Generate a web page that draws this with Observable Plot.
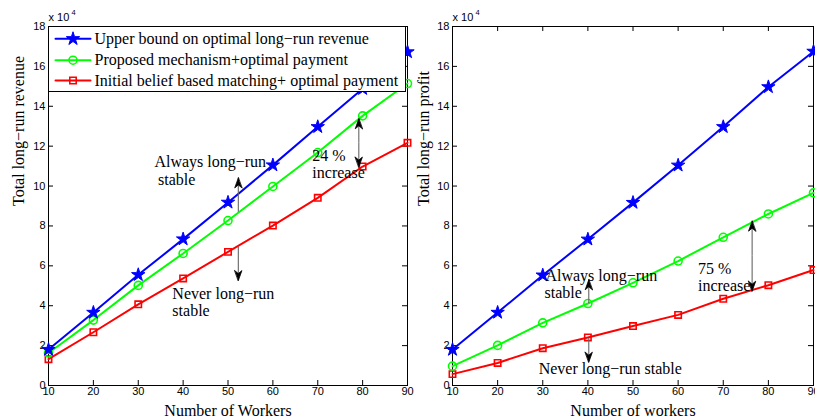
<!DOCTYPE html>
<html><head><meta charset="utf-8">
<script src="https://cdn.jsdelivr.net/npm/d3@7"></script>
<script src="https://cdn.jsdelivr.net/npm/@observablehq/plot@0.6"></script>
<style>
body{margin:0;background:#fff;}
#wrap{position:relative;width:815px;height:420px;overflow:hidden;background:#fff;}
.panel{position:absolute;top:0;}
.panel svg{overflow:visible;}
</style></head><body><div id="wrap"></div>
<script>
// Values in units of 10^4
const workers = [10, 20, 30, 40, 50, 60, 70, 80, 90];
const revenueUpper    = [1.80, 3.66, 5.55, 7.34, 9.18, 11.05, 12.97, 14.88, 16.72];
const revenueProposed = [1.63, 3.28, 5.02, 6.62, 8.27, 9.98, 11.68, 13.52, 15.14];
const revenueInitial  = [1.32, 2.67, 4.07, 5.37, 6.70, 8.02, 9.41, 10.98, 12.17];
const profitUpper     = [1.80, 3.66, 5.53, 7.33, 9.17, 11.04, 12.97, 14.97, 16.75];
const profitProposed  = [0.97, 2.01, 3.14, 4.11, 5.15, 6.24, 7.43, 8.60, 9.66];
const profitInitial   = [0.57, 1.13, 1.87, 2.41, 2.98, 3.54, 4.35, 5.03, 5.79];

const xTicks = [10, 20, 30, 40, 50, 60, 70, 80, 90];
const yTicks = [0, 2, 4, 6, 8, 10, 12, 14, 16, 18];

const seriesNames = [
  "Upper bound on optimal long\u2212run revenue",
  "Proposed mechanism+optimal payment",
  "Initial belief based matching+ optimal payment"
];
const seriesColors = ["#0000ff", "#00ff00", "#ff0000"];
const seriesSymbols = ["star", "circle", "square"];

const revenueNotes = [
  {x: 33.6, y: 10.95, text: "Always long\u2212run"},
  {x: 34.4, y: 10.06, text: "stable"},
  {x: 37.6, y: 4.35, text: "Never long\u2212run"},
  {x: 37.6, y: 3.47, text: "stable"},
  {x: 68.8, y: 11.25, text: "24 %"},
  {x: 68.8, y: 10.41, text: "increase"}
];
const revenueArrows = [
  {x: 52.3, y1: 8.69, y2: 10.41},
  {x: 52.3, y1: 6.93, y2: 5.26},
  {x: 79.15, y1: 12.16, y2: 13.37},
  {x: 79.15, y1: 12.16, y2: 10.95}
];
const profitNotes = [
  {x: 30.6, y: 5.23, text: "Always long\u2212run"},
  {x: 30.4, y: 4.38, text: "stable"},
  {x: 29.1, y: 0.59, text: "Never long\u2212run stable"},
  {x: 64.4, y: 5.57, text: "75 %"},
  {x: 64.4, y: 4.73, text: "increase"}
];
const profitArrows = [
  {x: 40.2, y1: 4.10, y2: 5.30},
  {x: 40.2, y1: 2.36, y2: 1.17},
  {x: 76.4, y1: 6.49, y2: 8.24},
  {x: 76.4, y1: 6.49, y2: 4.73}
];

const SERIF = "'Liberation Serif', 'Times New Roman', serif";
const SANS = "'Liberation Sans', Arial, sans-serif";

function toRows(values) { return workers.map((w, i) => ({x: w, y: values[i]})); }

const segShape = {draw(context, l) { context.moveTo(0, 0); context.lineTo(l, 0); }};
// barbed arrow head with its tip at the origin, pointing "up" before rotation
const headShape = {draw(context) {
  context.moveTo(0, 0); context.lineTo(-3.6, 10); context.lineTo(0, 7); context.lineTo(3.6, 10); context.closePath();
}};

function makePanel({left, width, marginLeft, marginRight, series, ylabel, xlabel, ylabelDx, notes, arrows, legend}) {
  const marginTop = 26, marginBottom = 35, height = 420;
  const fw = width - marginLeft - marginRight;
  const fh = height - marginTop - marginBottom;
  const marks = [];
  marks.push(Plot.frame({stroke: "black", strokeWidth: 1}));
  marks.push(Plot.ruleX(xTicks, {x: d => d, insetTop: fh - 5, stroke: "black"}));
  marks.push(Plot.ruleX(xTicks, {x: d => d, insetBottom: fh - 5, stroke: "black"}));
  marks.push(Plot.ruleY(yTicks, {y: d => d, insetRight: fw - 5, stroke: "black"}));
  marks.push(Plot.ruleY(yTicks, {y: d => d, insetLeft: fw - 5, stroke: "black"}));
  marks.push(Plot.axisX(xTicks, {tickSize: 0, tickPadding: 2, label: null, fontSize: 11}));
  marks.push(Plot.axisY(yTicks, {tickSize: 0, tickPadding: 3, label: null, fontSize: 11}));
  [2, 1, 0].forEach(k => {
    const rows = toRows(series[k]);
    marks.push(Plot.line(rows, {x: "x", y: "y", stroke: seriesColors[k], strokeWidth: 2}));
    if (seriesSymbols[k] === "star") {
      marks.push(Plot.dot(rows, {x: "x", y: "y", symbol: "star", r: 4.2, fill: seriesColors[k], stroke: seriesColors[k], strokeWidth: 1}));
    } else {
      marks.push(Plot.dot(rows, {x: "x", y: "y", symbol: seriesSymbols[k], r: seriesSymbols[k] === "square" ? 3.6 : 4, fill: "none", stroke: seriesColors[k], strokeWidth: 1.6}));
    }
  });
  // annotation arrows: gray shaft + black barbed head
  marks.push(Plot.ruleX(arrows, {x: "x", y1: "y1", y2: "y2", stroke: "#666", strokeWidth: 1.1}));
  marks.push(Plot.vector(arrows, {x: "x", y: "y2", length: 10, rotate: d => d.y2 > d.y1 ? 0 : 180, anchor: "start", shape: headShape, fill: "black", stroke: "black", strokeWidth: 0.8}));
  marks.push(Plot.text(notes, {x: "x", y: "y", text: "text", textAnchor: "start", lineAnchor: "bottom", fontFamily: SERIF, fontSize: 16, fill: "black"}));
  marks.push(Plot.text(["x 10"], {frameAnchor: "top-left", dy: -6, textAnchor: "start", lineAnchor: "bottom", fontSize: 11, fontFamily: SANS}));
  marks.push(Plot.text(["4"], {frameAnchor: "top-left", dx: 23, dy: -12, textAnchor: "start", lineAnchor: "bottom", fontSize: 7.5, fontFamily: SANS}));
  marks.push(Plot.text([xlabel], {frameAnchor: "bottom", dy: 30, lineAnchor: "bottom", fontFamily: SERIF, fontSize: 16}));
  marks.push(Plot.text([ylabel], {frameAnchor: "left", dx: ylabelDx, rotate: -90, lineAnchor: "bottom", fontFamily: SERIF, fontSize: 16}));
  if (legend) {
    marks.push(Plot.frame({insetRight: 2, insetBottom: fh - 65, fill: "white", stroke: "black", strokeWidth: 1}));
    const rowDy = [12.3, 33.7, 54];
    seriesNames.forEach((name, k) => {
      marks.push(Plot.vector([0], {frameAnchor: "top-left", dx: 7, dy: rowDy[k], length: 35, rotate: 0, anchor: "start", shape: segShape, stroke: seriesColors[k], strokeWidth: 2}));
      if (seriesSymbols[k] === "star") {
        marks.push(Plot.dot([0], {frameAnchor: "top-left", dx: 24.5, dy: rowDy[k], symbol: "star", r: 4.2, fill: seriesColors[k], stroke: seriesColors[k], strokeWidth: 1}));
      } else {
        marks.push(Plot.dot([0], {frameAnchor: "top-left", dx: 24.5, dy: rowDy[k], symbol: seriesSymbols[k], r: seriesSymbols[k] === "square" ? 3.6 : 4, fill: "none", stroke: seriesColors[k], strokeWidth: 1.6}));
      }
      marks.push(Plot.text([name], {frameAnchor: "top-left", dx: 46, dy: rowDy[k] + 5, textAnchor: "start", lineAnchor: "bottom", fontFamily: SERIF, fontSize: 16}));
    });
  }
  const chart = Plot.plot({
    width, height, marginTop, marginBottom, marginLeft, marginRight,
    style: {fontFamily: SANS, fontSize: "11px", color: "black", background: "transparent", overflow: "visible"},
    x: {domain: [10, 90]},
    y: {domain: [0, 18]},
    marks
  });
  const div = document.createElement("div");
  div.className = "panel";
  div.style.left = left + "px";
  div.appendChild(chart);
  document.getElementById("wrap").appendChild(div);
}

makePanel({left: 0, width: 410, marginLeft: 48, marginRight: 3,
  series: [revenueUpper, revenueProposed, revenueInitial],
  ylabel: "Total long\u2212run revenue", xlabel: "Number of Workers", ylabelDx: -25,
  notes: revenueNotes, arrows: revenueArrows, legend: true});
makePanel({left: 405, width: 410, marginLeft: 47, marginRight: 2,
  series: [profitUpper, profitProposed, profitInitial],
  ylabel: "Total long\u2212run profit", xlabel: "Number of workers", ylabelDx: -24,
  notes: profitNotes, arrows: profitArrows, legend: false});
</script></body></html>
